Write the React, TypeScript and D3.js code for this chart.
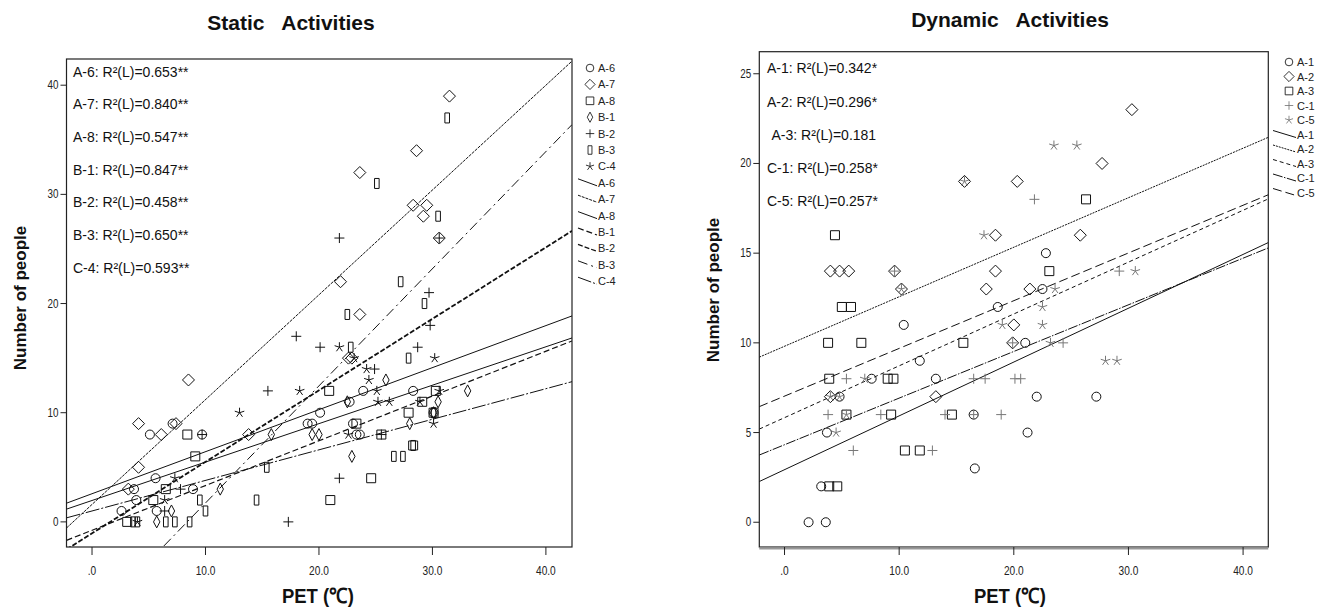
import React from 'react';
import * as d3 from 'd3';

type Pt = [number, number];

// ---------- Static activities (left) ----------
const staticNames = ['A-6', 'A-7', 'A-8', 'B-1', 'B-2', 'B-3', 'C-4'];
const staticR2 = ['0.653**', '0.840**', '0.547**', '0.847**', '0.458**', '0.650**', '0.593**'];
const staticIntercept = [2.58, 1.6, 1.96, -0.77, -1.05, -9.0, 1.0];
const staticSlope = [0.385, 0.96, 0.352, 0.41, 0.655, 1.073, 0.28];

const staticA6: Pt[] = [[2.6,1],[3.7,3],[3.9,2],[5.1,8],[5.6,4],[5.7,1],[7.1,9],[8.9,3],[9.7,8],[19.0,9],[19.4,9],[20.1,10],[22.7,11],[23.0,9],[23.3,8],[23.6,8],[23.9,12],[28.3,12],[30.1,10]];
const staticA7: Pt[] = [[3.2,3],[4.1,5],[4.1,9],[6.1,8],[7.4,9],[8.5,13],[13.8,8],[21.9,22],[22.6,15],[22.9,15],[23.6,19],[23.6,32],[28.3,29],[29.2,28],[29.5,29],[28.6,34],[30.6,26],[31.5,39]];
const staticA8: Pt[] = [[3.1,0],[5.4,2],[6.5,3],[8.4,8],[9.1,6],[21.0,2],[20.9,12],[23.3,9],[24.6,4],[25.5,8],[28.3,7],[27.9,10],[29.1,11],[30.1,10],[30.3,12]];
const staticB1: Pt[] = [[5.7,0],[7.0,1],[11.3,3],[15.8,8],[19.4,8],[20.0,8],[22.5,11],[22.9,6],[25.9,13],[28.0,9],[30.1,10],[30.5,11],[33.1,12]];
const staticB2: Pt[] = [[6.4,1],[7.8,3],[9.7,8],[15.5,12],[17.3,0],[18.0,17],[20.1,16],[21.8,26],[21.8,4],[24.9,14],[25.5,8],[28.7,16],[29.7,21],[29.8,18],[30.6,26]];
const staticB3: Pt[] = [[3.6,0],[4.0,0],[6.5,0],[7.3,0],[8.6,0],[10.0,1],[9.5,2],[14.5,2],[15.4,5],[22.5,19],[22.8,16],[25.1,31],[26.6,6],[27.4,6],[27.2,22],[27.9,15],[28.3,7],[29.3,20],[30.5,28],[31.3,37],[30.1,10]];
const staticC4: Pt[] = [[4.0,0],[6.4,2],[7.3,4],[13.0,10],[18.3,12],[21.8,16],[22.6,8],[23.1,15],[24.2,14],[24.4,13],[25.1,12],[25.2,11],[26.2,11],[28.9,11],[30.1,9],[30.2,15],[30.6,12]];
const staticPoints = [staticA6, staticA7, staticA8, staticB1, staticB2, staticB3, staticC4];
const staticXTicks = [0, 10, 20, 30, 40];
const staticYTicks = [0, 10, 20, 30, 40];

// ---------- Dynamic activities (right) ----------
const dynamicNames = ['A-1', 'A-2', 'A-3', 'C-1', 'C-5'];
const dynamicR2 = ['0.342*', '0.296*', '0.181', '0.258*', '0.257*'];
const dynamicIntercept = [2.93, 9.81, 5.83, 4.32, 7.03];
const dynamicSlope = [0.30, 0.276, 0.289, 0.26, 0.266];

const dynamicA1: Pt[] = [[2.1,0],[3.6,0],[3.2,2],[3.7,5],[4.8,7],[7.6,8],[10.4,11],[11.8,9],[13.2,8],[16.5,6],[16.6,3],[18.6,12],[21.0,10],[21.2,5],[22.0,7],[22.5,13],[22.8,15],[27.2,7]];
const dynamicA2: Pt[] = [[4.0,14],[4.8,14],[5.6,14],[4.0,7],[9.6,14],[10.2,13],[13.2,7],[15.7,19],[17.6,13],[18.4,14],[18.4,16],[19.9,10],[20.0,11],[20.3,19],[21.4,13],[25.8,16],[27.7,20],[30.3,23]];
const dynamicA3: Pt[] = [[3.8,10],[3.9,8],[3.9,2],[4.6,2],[4.4,16],[5.0,12],[5.8,12],[5.4,6],[6.7,10],[9.0,8],[9.5,8],[9.3,6],[10.5,4],[11.8,4],[14.6,6],[15.6,10],[23.1,14],[26.3,18]];
const dynamicC1: Pt[] = [[3.8,6],[5.4,8],[6.0,4],[8.4,6],[9.6,14],[12.9,4],[14.0,6],[16.5,6],[16.5,8],[17.5,8],[18.9,6],[19.9,10],[20.1,8],[20.6,8],[21.8,18],[24.3,10],[29.2,14]];
const dynamicC5: Pt[] = [[4.0,7],[4.8,7],[4.5,5],[5.4,6],[7.0,8],[10.2,13],[15.7,19],[17.4,16],[19.0,11],[22.5,12],[22.5,11],[23.2,10],[23.5,21],[23.6,13],[25.5,21],[28.0,9],[29.0,9],[30.6,14]];
const dynamicPoints = [dynamicA1, dynamicA2, dynamicA3, dynamicC1, dynamicC5];
const dynamicXTicks = [0, 10, 20, 30, 40];
const dynamicYTicks = [0, 5, 10, 15, 20, 25];

// ---------- styles ----------
const FONT = "'Liberation Sans', Arial, Helvetica, sans-serif";

function markerPath(kind: string): string {
  switch (kind) {
    case 'circle': {
      const r = 4.5;
      return `M${-r},0A${r},${r} 0 1,0 ${r},0A${r},${r} 0 1,0 ${-r},0Z`;
    }
    case 'diamond': return 'M0,-6L6,0L0,6L-6,0Z';
    case 'square': return 'M-4.5,-4.5H4.5V4.5H-4.5Z';
    case 'thinDiamond': return 'M0,-6L3.2,0L0,6L-3.2,0Z';
    case 'plus': return 'M-5,0H5M0,-5V5';
    case 'thinRect': return 'M-2.3,-5H2.3V5H-2.3Z';
    case 'star': {
      let p = '';
      for (let i = 0; i < 5; i++) {
        const a = -Math.PI / 2 + (i * 2 * Math.PI) / 5;
        p += `M0,0L${(5 * Math.cos(a)).toFixed(2)},${(5 * Math.sin(a)).toFixed(2)}`;
      }
      return p;
    }
  }
  return '';
}

interface PanelCfg {
  id: string;
  x0: number; x1: number; y0: number; y1: number;
  xDomain: [number, number]; yDomain: [number, number];
  names: string[]; r2: string[]; intercept: number[]; slope: number[];
  points: Pt[][]; xTicks: number[]; yTicks: number[];
  markers: string[]; markerColors: string[];
  dashes: string[]; widths: number[];
  title: string; titleX: number; titleY: number;
  yLabelX: number; yLabelY: number; xLabelX: number;
  r2X: number[]; r2Y0: number; r2Step: number;
  legX: number; legY0: number; legStep: number; legLineW: number;
  bottomShadow: boolean;
}

function Panel({ c }: { c: PanelCfg }) {
  const x = d3.scaleLinear().domain(c.xDomain).range([c.x0, c.x1]);
  const y = d3.scaleLinear().domain(c.yDomain).range([c.y1, c.y0]);
  const n = c.names.length;
  return (
    <g>
      <defs>
        <clipPath id={`clip-${c.id}`}>
          <rect x={c.x0} y={c.y0} width={c.x1 - c.x0} height={c.y1 - c.y0} />
        </clipPath>
      </defs>
      <text x={c.titleX} y={c.titleY} textAnchor="middle" fontFamily={FONT} fontWeight="bold" fontSize={21}
        style={{ whiteSpace: 'pre' }} fill="#111">{c.title}</text>
      <rect x={c.x0} y={c.y0} width={c.x1 - c.x0} height={c.y1 - c.y0} fill="#fff" stroke="#222" strokeWidth={1.2} />
      {c.bottomShadow && (
        <line x1={c.x0} x2={c.x1} y1={c.y1 + 1.5} y2={c.y1 + 1.5} stroke="#999" strokeWidth={2} />
      )}
      {/* fit lines and points */}
      <g clipPath={`url(#clip-${c.id})`}>
        {c.intercept.map((b, i) => {
          const d = d3.line<number>().x((v) => x(v)).y((v) => y(b + c.slope[i] * v))(c.xDomain) || '';
          return <path key={'l' + i} d={d} fill="none" stroke="#111" strokeWidth={c.widths[i]} strokeDasharray={c.dashes[i]} />;
        })}
        {c.points.map((pts, i) => (
          <g key={'p' + i}>
            {pts.map((p, j) => (
              <path key={j} d={markerPath(c.markers[i])} transform={`translate(${x(p[0])},${y(p[1])})`}
                fill="none" stroke={c.markerColors[i]} strokeWidth={1} />
            ))}
          </g>
        ))}
      </g>
      {/* axes ticks */}
      {c.yTicks.map((t) => (
        <g key={'yt' + t}>
          <line x1={c.x0 - 6} x2={c.x0} y1={y(t)} y2={y(t)} stroke="#222" strokeWidth={1} />
          <text transform={`translate(${c.x0 - 8},${y(t) + 4}) scale(0.82,1)`} textAnchor="end" fontFamily={FONT}
            fontSize={12} fill="#222">{t}</text>
        </g>
      ))}
      {c.xTicks.map((t) => (
        <g key={'xt' + t}>
          <line x1={x(t)} x2={x(t)} y1={c.y1} y2={c.y1 + 8} stroke="#222" strokeWidth={1} />
          <text transform={`translate(${x(t)},${c.y1 + 28}) scale(0.78,1)`} textAnchor="middle" fontFamily={FONT}
            fontSize={13} fill="#222">{t === 0 ? '.0' : t.toFixed(1)}</text>
        </g>
      ))}
      <text transform={`translate(${c.xLabelX},${603}) scale(0.88,1)`} textAnchor="middle" fontFamily={FONT}
        fontWeight="bold" fontSize={21} fill="#111">PET (℃)</text>
      <text transform={`translate(${c.yLabelX},${c.yLabelY}) rotate(-90)`} textAnchor="middle" fontFamily={FONT}
        fontWeight="bold" fontSize={17} fill="#111">Number of people</text>
      {/* R2 annotations */}
      {c.names.map((nm, i) => (
        <text key={'r' + i} x={c.r2X[i]} y={c.r2Y0 + i * c.r2Step} fontFamily={FONT} fontSize={14} fill="#111">
          {`${nm}: R²(L)=${c.r2[i]}`}
        </text>
      ))}
      {/* legend */}
      {c.names.map((nm, i) => {
        const yy = c.legY0 + i * c.legStep;
        return (
          <g key={'lg' + i}>
            <path d={markerPath(c.markers[i])} transform={`translate(${c.legX - 8},${yy}) scale(0.85)`} fill="none"
              stroke={c.markerColors[i]} strokeWidth={1} />
            <text x={c.legX} y={yy + 4} fontFamily={FONT} fontSize={11} fill="#222">{nm}</text>
          </g>
        );
      })}
      {c.names.map((nm, i) => {
        const yy = c.legY0 + (i + n) * c.legStep;
        return (
          <g key={'ll' + i}>
            <line x1={c.legX - c.legLineW} y1={yy - 4} x2={c.legX - 1} y2={yy + 3} stroke="#111" strokeWidth={Math.min(c.widths[i], 1.3)}
              strokeDasharray={c.dashes[i]} />
            <text x={c.legX} y={yy + 4} fontFamily={FONT} fontSize={11} fill="#222">{nm}</text>
          </g>
        );
      })}
    </g>
  );
}

const leftCfg: PanelCfg = {
  id: 'left', x0: 66.5, x1: 572, y0: 59, y1: 547,
  xDomain: [-2.25, 42.3], yDomain: [-2.3, 42.4],
  names: staticNames, r2: staticR2, intercept: staticIntercept, slope: staticSlope,
  points: staticPoints, xTicks: staticXTicks, yTicks: staticYTicks,
  markers: ['circle', 'diamond', 'square', 'thinDiamond', 'plus', 'thinRect', 'star'],
  markerColors: ['#111', '#111', '#111', '#111', '#111', '#111', '#111'],
  dashes: ['', '3,1', '', '6,3', '5,2', '10,4,2,4', '14,2,2,2'],
  widths: [1, 1, 1, 1.2, 1.8, 1, 1],
  title: 'Static   Activities', titleX: 291, titleY: 30,
  yLabelX: 26, yLabelY: 298, xLabelX: 318,
  r2X: [73, 73, 73, 73, 73, 73, 73], r2Y0: 76.5, r2Step: 32.7,
  legX: 598, legY0: 68, legStep: 16.4, legLineW: 20,
  bottomShadow: false,
};

const rightCfg: PanelCfg = {
  id: 'right', x0: 759.3, x1: 1268.3, y0: 51.7, y1: 547,
  xDomain: [-2.2, 42.2], yDomain: [-1.38, 26.23],
  names: dynamicNames, r2: dynamicR2, intercept: dynamicIntercept, slope: dynamicSlope,
  points: dynamicPoints, xTicks: dynamicXTicks, yTicks: dynamicYTicks,
  markers: ['circle', 'diamond', 'square', 'plus', 'star'],
  markerColors: ['#111', '#111', '#111', '#777', '#777'],
  dashes: ['', '2,1', '4,3', '10,1.5,1.5,1.5', '9,4'],
  widths: [1, 1, 1, 1, 1],
  title: 'Dynamic   Activities', titleX: 1010, titleY: 27,
  yLabelX: 719, yLabelY: 290, xLabelX: 1010,
  r2X: [767, 767, 771.5, 767, 767], r2Y0: 73.3, r2Step: 33.2,
  legX: 1297, legY0: 62, legStep: 14.5, legLineW: 24,
  bottomShadow: true,
};

export default function App() {
  return (
    <svg width={1325} height={609} style={{ position: 'absolute', left: 0, top: 0, background: '#fff' }}>
      <rect x={0} y={0} width={1325} height={609} fill="#fff" />
      <Panel c={leftCfg} />
      <Panel c={rightCfg} />
    </svg>
  );
}
